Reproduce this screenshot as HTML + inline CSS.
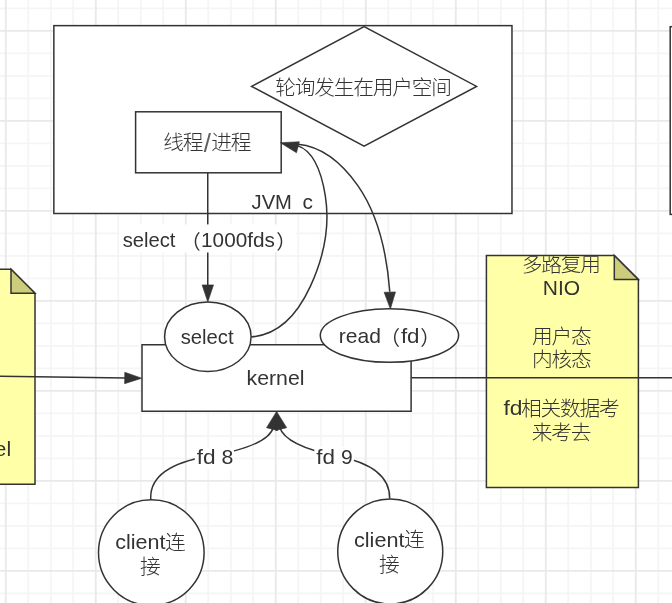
<!DOCTYPE html>
<html lang="zh-CN">
<head>
<meta charset="utf-8">
<title>NIO 多路复用</title>
<style>
html,body{margin:0;padding:0;background:#fff;}
body{width:672px;height:603px;overflow:hidden;}
svg{display:block;will-change:transform;}
svg text{font-family:"Liberation Sans", "Noto Sans CJK SC", sans-serif;fill:#333333;}
</style>
</head>
<body>
<svg width="672" height="603" viewBox="0 0 672 603">
<rect width="672" height="603" fill="#ffffff"/>
<path d="M28.25 0V603M50.75 0V603M73.25 0V603M118.25 0V603M140.75 0V603M163.25 0V603M208.25 0V603M230.75 0V603M253.25 0V603M298.25 0V603M320.75 0V603M343.25 0V603M388.25 0V603M410.75 0V603M433.25 0V603M478.25 0V603M500.75 0V603M523.25 0V603M568.25 0V603M590.75 0V603M613.25 0V603M658.25 0V603M0 8.40H672M0 53.40H672M0 75.90H672M0 98.40H672M0 143.40H672M0 165.90H672M0 188.40H672M0 233.40H672M0 255.90H672M0 278.40H672M0 323.40H672M0 345.90H672M0 368.40H672M0 413.40H672M0 435.90H672M0 458.40H672M0 503.40H672M0 525.90H672M0 548.40H672M0 593.40H672" stroke="#f5f5f5" stroke-width="1.80" fill="none"/>
<path d="M5.75 0V603M95.75 0V603M185.75 0V603M275.75 0V603M365.75 0V603M455.75 0V603M545.75 0V603M635.75 0V603M0 30.90H672M0 120.90H672M0 210.90H672M0 300.90H672M0 390.90H672M0 480.90H672M0 570.90H672" stroke="#e9e9e9" stroke-width="1.80" fill="none"/>
<g stroke="#333333" stroke-width="1.50">
<path d="M-5 269.3H11L35.0 293.3V484.2H-5Z" fill="#ffffa8"/>
<path d="M11 269.3V293.3H35.0Z" fill="#cccc7a"/>
<rect x="53.85" y="25.64" width="458.12" height="187.86" fill="#fff"/>
<rect x="670.2" y="26.7" width="100" height="187.7" fill="#fff"/>
<polygon points="251.6,86.4 364.1,26.5 476.6,86.4 364.1,146.2" fill="#fff"/>
<rect x="135.6" y="111.8" width="145.6" height="61.0" fill="#fff"/>
<rect x="142.0" y="344.75" width="269.1" height="66.5" fill="#fff"/>
<ellipse cx="207.85" cy="336.65" rx="43.25" ry="34.75" fill="#fff"/>
<ellipse cx="389.45" cy="335.55" rx="69.15" ry="26.7" fill="#fff"/>
<path d="M486.4 255.5H614.3L638.4 279.6V487.6H486.4Z" fill="#ffffa8"/>
<path d="M614.3 255.5V279.6H638.4Z" fill="#cccc7a"/>
<ellipse cx="151.3" cy="552.6" rx="52.8" ry="52.8" fill="#fff"/>
<ellipse cx="390.25" cy="551.5" rx="52.5" ry="52.5" fill="#fff"/>
</g>
<g fill="none" stroke="#333333" stroke-width="1.50">
<path d="M207.75 172.8V286"/>
<path d="M-2 376.2L126 378.1"/>
<path d="M411.3 377.7H674"/>
<path d="M 251.25 336.90 Q 288.03 334.41 310.11 286.92 Q 332.18 239.44 325.36 196.08 Q 318.54 152.72 297.50 145.60"/>
<path d="M 389.80 291.70 Q 384.61 223.87 357.84 185.62 Q 331.08 147.37 298.00 144.20 L 290 143.5"/>
<path d="M 150.8 499.8 Q 148.5 466.4 208.4 456.3 Q 268.4 446.2 273.5 427.0"/>
<path d="M 389.7 498.4 Q 390.0 466.4 337.8 456.2 Q 285.6 446.0 279.5 427.0"/>
</g>
<polygon points="207.80,302.00 202.10,284.90 213.50,284.90" fill="#333333" stroke="#333333" stroke-width="0.6"/>
<polygon points="141.80,378.20 124.62,383.66 124.78,372.26" fill="#333333" stroke="#333333" stroke-width="0.6"/>
<polygon points="390.40,309.00 384.11,292.31 395.51,291.91" fill="#333333" stroke="#333333" stroke-width="0.6"/>
<polygon points="280.30,142.70 299.35,141.74 296.49,152.78" fill="#333333" stroke="#333333" stroke-width="0.6"/>
<polygon points="276.60,411.50 277.56,430.55 266.52,427.69" fill="#333333" stroke="#333333" stroke-width="0.6"/>
<polygon points="276.60,411.50 286.68,427.69 275.64,430.55" fill="#333333" stroke="#333333" stroke-width="0.6"/>
<rect x="119.6" y="224.4" width="176.6" height="28.1" fill="#fff"/>
<rect x="194.8" y="447.3" width="39.2" height="22.3" fill="#fff"/>
<rect x="314.3" y="447.0" width="39.6" height="22.6" fill="#fff"/>
<clipPath id="nc"><rect x="487.1" y="256.2" width="150.8" height="231"/></clipPath>
<text><tspan x="-46.76" y="456.00" font-size="20.80px" textLength="57.94" lengthAdjust="spacingAndGlyphs">kernel</tspan></text>
<text><tspan x="251.54" y="208.50" font-size="20.80px" textLength="40.38" lengthAdjust="spacingAndGlyphs">JVM</tspan> <tspan x="302.62" y="208.50" font-size="20.80px" textLength="10.41" lengthAdjust="spacingAndGlyphs">c</tspan></text>
<text><tspan x="275.21" y="94.62" font-size="20.70px" font-weight="300" textLength="176.70" lengthAdjust="spacing">轮询发生在用户空间</tspan></text>
<text><tspan x="163.20" y="150.43" font-size="20.70px" font-weight="300" textLength="40.20" lengthAdjust="spacing">线程</tspan><tspan x="203.71" y="152.49" font-size="25.85px" fill="#606060">/</tspan><tspan x="211.16" y="150.24" font-size="20.70px" font-weight="300" textLength="40.20" lengthAdjust="spacing">进程</tspan></text>
<text><tspan x="246.59" y="384.60" font-size="20.80px" textLength="57.94" lengthAdjust="spacingAndGlyphs">kernel</tspan></text>
<text><tspan x="180.64" y="343.75" font-size="20.80px" textLength="52.94" lengthAdjust="spacingAndGlyphs">select</tspan></text>
<text><tspan x="338.86" y="342.50" font-size="20.80px" textLength="42.13" lengthAdjust="spacingAndGlyphs">read</tspan><tspan x="379.88" y="344.96" font-size="20.10px">（</tspan><tspan x="400.93" y="342.50" font-size="20.80px" textLength="18.63" lengthAdjust="spacingAndGlyphs">fd</tspan><tspan x="420.22" y="344.96" font-size="20.10px">）</tspan></text>
<text clip-path="url(#nc)"><tspan x="521.80" y="271.81" font-size="20.70px" font-weight="300" textLength="79.20" lengthAdjust="spacing">多路复用</tspan><tspan x="542.73" y="294.75" font-size="20.80px" textLength="37.36" lengthAdjust="spacingAndGlyphs">NIO</tspan><tspan x="532.12" y="344.12" font-size="20.70px" font-weight="300" textLength="59.70" lengthAdjust="spacing">用户态</tspan><tspan x="531.94" y="367.38" font-size="20.70px" font-weight="300" textLength="59.70" lengthAdjust="spacing">内核态</tspan><tspan x="503.48" y="414.60" font-size="20.80px" textLength="19.01" lengthAdjust="spacingAndGlyphs">fd</tspan><tspan x="521.11" y="415.82" font-size="20.70px" font-weight="300" textLength="98.70" lengthAdjust="spacing">相关数据考</tspan><tspan x="531.67" y="439.50" font-size="20.70px" font-weight="300" textLength="59.70" lengthAdjust="spacing">来考去</tspan></text>
<text><tspan x="122.64" y="246.50" font-size="20.80px" textLength="52.83" lengthAdjust="spacingAndGlyphs">select</tspan> <tspan x="180.93" y="248.90" font-size="19.74px">（</tspan><tspan x="201.08" y="246.50" font-size="20.80px" textLength="73.78" lengthAdjust="spacingAndGlyphs">1000fds</tspan><tspan x="276.13" y="248.90" font-size="19.74px">）</tspan></text>
<text><tspan x="196.83" y="464.40" font-size="20.80px" textLength="18.90" lengthAdjust="spacingAndGlyphs">fd</tspan> <tspan x="221.60" y="464.40" font-size="20.80px" textLength="11.87" lengthAdjust="spacingAndGlyphs">8</tspan></text>
<text><tspan x="316.33" y="463.75" font-size="20.80px" textLength="18.74" lengthAdjust="spacingAndGlyphs">fd</tspan> <tspan x="340.99" y="463.75" font-size="20.80px" textLength="11.73" lengthAdjust="spacingAndGlyphs">9</tspan></text>
<text><tspan x="115.19" y="548.75" font-size="20.80px" textLength="50.25" lengthAdjust="spacingAndGlyphs">client</tspan><tspan x="164.94" y="549.51" font-size="20.70px" font-weight="300">连</tspan><tspan x="140.01" y="573.83" font-size="20.70px" font-weight="300">接</tspan></text>
<text><tspan x="353.99" y="546.60" font-size="20.80px" textLength="50.45" lengthAdjust="spacingAndGlyphs">client</tspan><tspan x="403.94" y="547.36" font-size="20.70px" font-weight="300">连</tspan><tspan x="378.94" y="571.80" font-size="20.70px" font-weight="300">接</tspan></text>
</svg>
</body>
</html>
